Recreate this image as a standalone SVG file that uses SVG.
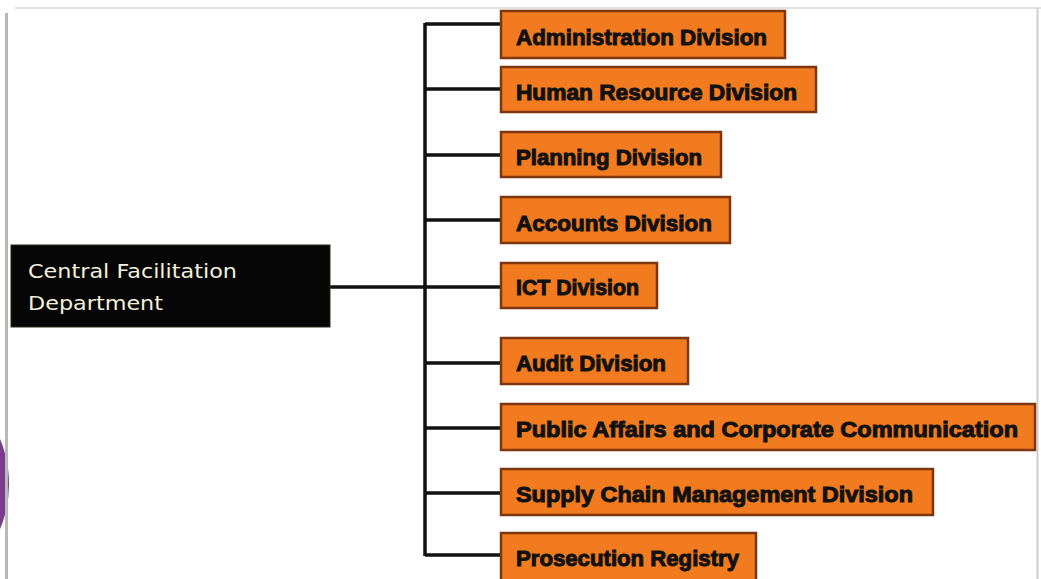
<svg xmlns="http://www.w3.org/2000/svg" width="1041" height="579" viewBox="0 0 1041 579">
<style>
.box{fill:#F27B1F;stroke:#7E3510;stroke-width:2.5}
.lbl{font-family:"Liberation Sans",Arial,sans-serif;font-weight:bold;font-size:22px;fill:#111;stroke:#111;stroke-width:1}
.root{fill:#050505;stroke:#2a2a1a;stroke-width:1}
.rootlbl{font-family:"DejaVu Sans","Liberation Sans",sans-serif;font-size:19.5px;fill:#F3F0DA}
.conn{stroke:#111;stroke-width:3.5;fill:none}
</style>
<rect width="1041" height="579" fill="#fff"/>
<line x1="15" y1="8" x2="1041" y2="8" stroke="#e2e2e2" stroke-width="2"/>
<ellipse cx="-40" cy="484" rx="49" ry="78" fill="#7A3A8E"/>
<line x1="6.5" y1="13" x2="6.5" y2="579" stroke="#b8b8b8" stroke-width="3"/>
<line x1="1037.5" y1="8" x2="1037.5" y2="579" stroke="#cfcfcf" stroke-width="2"/>
<g id="connectors">
<path class="conn" d="M330 287H425M425 23V556M425 24H501M425 89H501M425 155H501M425 220H501M425 287H501M425 363H501M425 428H501M425 493H501M425 555H501"/>
</g>
<g id="central">
<rect class="root" x="11" y="245" width="319" height="82"/>
<text class="rootlbl" x="28" y="278" textLength="209" lengthAdjust="spacingAndGlyphs">Central Facilitation</text>
<text class="rootlbl" x="28" y="310" textLength="135" lengthAdjust="spacingAndGlyphs">Department</text>
</g>
<g id="admin"><rect class="box" x="501" y="11" width="284" height="47"/><text class="lbl" x="516" y="45" textLength="251" lengthAdjust="spacingAndGlyphs">Administration Division</text></g>
<g id="hr"><rect class="box" x="501" y="67" width="315" height="45"/><text class="lbl" x="516" y="100" textLength="281" lengthAdjust="spacingAndGlyphs">Human Resource Division</text></g>
<g id="planning"><rect class="box" x="501" y="132" width="220" height="45"/><text class="lbl" x="516" y="165" textLength="186" lengthAdjust="spacingAndGlyphs">Planning Division</text></g>
<g id="accounts"><rect class="box" x="501" y="197" width="229" height="46"/><text class="lbl" x="516" y="231" textLength="196" lengthAdjust="spacingAndGlyphs">Accounts Division</text></g>
<g id="ict"><rect class="box" x="501" y="263" width="156" height="45"/><text class="lbl" x="516" y="295" textLength="123" lengthAdjust="spacingAndGlyphs">ICT Division</text></g>
<g id="audit"><rect class="box" x="501" y="338" width="187" height="46"/><text class="lbl" x="516" y="371" textLength="150" lengthAdjust="spacingAndGlyphs">Audit Division</text></g>
<g id="public"><rect class="box" x="501" y="404" width="534" height="46"/><text class="lbl" x="516" y="437" textLength="502" lengthAdjust="spacingAndGlyphs">Public Affairs and Corporate Communication</text></g>
<g id="supply"><rect class="box" x="501" y="469" width="432" height="46"/><text class="lbl" x="516" y="502" textLength="397" lengthAdjust="spacingAndGlyphs">Supply Chain Management Division</text></g>
<g id="prosecution"><rect class="box" x="501" y="533" width="255" height="52"/><text class="lbl" x="516" y="566" textLength="223" lengthAdjust="spacingAndGlyphs">Prosecution Registry</text></g>
</svg>
